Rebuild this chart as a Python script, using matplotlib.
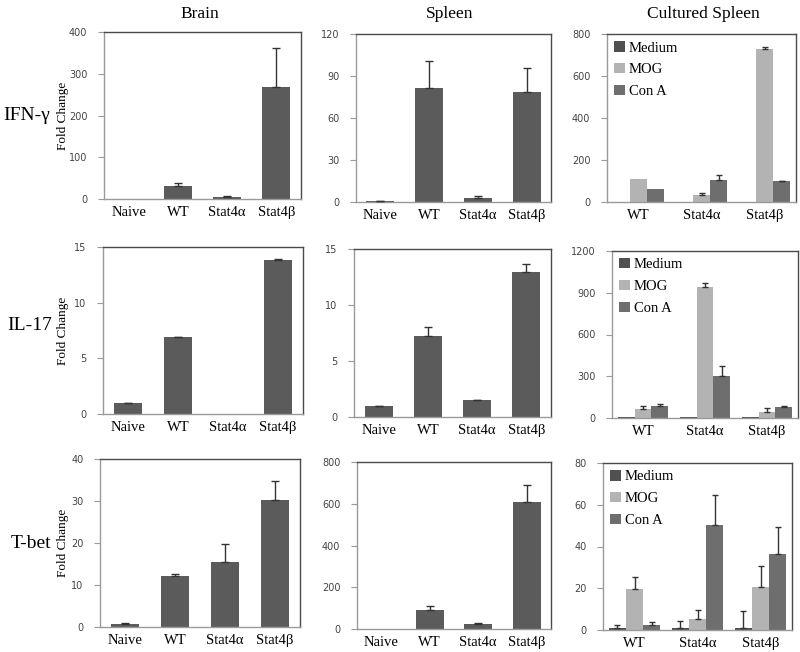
import matplotlib
matplotlib.use("Agg")
import matplotlib.pyplot as plt
from matplotlib.patches import Patch
import numpy as np

W, H = 800, 652

# ---------------- data ----------------
groups4 = ["Naive", "WT", "Stat4\u03b1", "Stat4\u03b2"]
groups3 = ["WT", "Stat4\u03b1", "Stat4\u03b2"]
conditions = ["Medium", "MOG", "Con A"]
col_titles = ["Brain", "Spleen", "Cultured Spleen"]
row_titles = ["IFN-\u03b3", "IL-17", "T-bet"]

# IFN-gamma
ifn_brain = [1, 30, 4.5, 268]
ifn_brain_err = [0, 8, 2, 94]
ifn_spleen = [0.6, 81.5, 3, 78.5]
ifn_spleen_err = [0.2, 19, 1.2, 17]
ifn_cult_medium = [0, 0, 0]
ifn_cult_medium_err = [0, 0, 0]
ifn_cult_mog = [110, 33, 730]
ifn_cult_mog_err = [0, 10, 8]
ifn_cult_cona = [63, 106, 98]
ifn_cult_cona_err = [0, 24, 3]

# IL-17
il17_brain = [0.97, 6.88, 0, 13.83]
il17_brain_err = [0.03, 0.05, 0, 0.12]
il17_spleen = [0.96, 7.2, 1.5, 12.95]
il17_spleen_err = [0.03, 0.8, 0.06, 0.73]
il17_cult_medium = [4, 4, 4]
il17_cult_medium_err = [0, 0, 0]
il17_cult_mog = [67, 942, 41]
il17_cult_mog_err = [19, 30, 31]
il17_cult_cona = [84, 305, 79]
il17_cult_cona_err = [19, 66, 7]

# T-bet
tbet_brain = [0.8, 12.2, 15.4, 30.2]
tbet_brain_err = [0.15, 0.4, 4.3, 4.6]
tbet_spleen = [0, 92, 25, 607]
tbet_spleen_err = [0, 20, 4, 85]
tbet_cult_medium = [1, 1, 1]
tbet_cult_medium_err = [1.2, 3.5, 8]
tbet_cult_mog = [19.6, 5.3, 20.8]
tbet_cult_mog_err = [5.6, 4.4, 9.8]
tbet_cult_cona = [2.6, 50.3, 36.2]
tbet_cult_cona_err = [1.0, 14.3, 13.1]

# y-axis ticks
yticks = {
    (0, 0): [0, 100, 200, 300, 400],
    (0, 1): [0, 30, 60, 90, 120],
    (0, 2): [0, 200, 400, 600, 800],
    (1, 0): [0, 5, 10, 15],
    (1, 1): [0, 5, 10, 15],
    (1, 2): [0, 300, 600, 900, 1200],
    (2, 0): [0, 10, 20, 30, 40],
    (2, 1): [0, 200, 400, 600, 800],
    (2, 2): [0, 20, 40, 60, 80],
}

simple = {
    (0, 0): (ifn_brain, ifn_brain_err),
    (0, 1): (ifn_spleen, ifn_spleen_err),
    (1, 0): (il17_brain, il17_brain_err),
    (1, 1): (il17_spleen, il17_spleen_err),
    (2, 0): (tbet_brain, tbet_brain_err),
    (2, 1): (tbet_spleen, tbet_spleen_err),
}
cultured = {
    0: [(ifn_cult_medium, ifn_cult_medium_err), (ifn_cult_mog, ifn_cult_mog_err),
        (ifn_cult_cona, ifn_cult_cona_err)],
    1: [(il17_cult_medium, il17_cult_medium_err), (il17_cult_mog, il17_cult_mog_err),
        (il17_cult_cona, il17_cult_cona_err)],
    2: [(tbet_cult_medium, tbet_cult_medium_err), (tbet_cult_mog, tbet_cult_mog_err),
        (tbet_cult_cona, tbet_cult_cona_err)],
}

# ---------------- layout (pixel boxes: left, top, right, bottom) ----------------
boxes = {
    (0, 0): (104, 32, 301, 199), (0, 1): (356, 34, 551, 202), (0, 2): (607, 34, 796, 202),
    (1, 0): (103, 247, 303, 414), (1, 1): (354, 249, 551, 417), (1, 2): (612, 251, 798, 418),
    (2, 0): (100, 459, 300, 627), (2, 1): (357, 462, 551, 629), (2, 2): (603, 463, 792, 630),
}

BAR = "#5b5b5b"
cond_colors = ["#505050", "#b3b3b3", "#6e6e6e"]
SERIF = "Liberation Serif"
SANS = "DejaVu Sans"

fig = plt.figure(figsize=(W / 100, H / 100), dpi=100)
fig.patch.set_facecolor("white")


def style(ax, key):
    for s in ["left", "bottom"]:
        ax.spines[s].set_color("#9a9a9a")
        ax.spines[s].set_linewidth(1.0)
    for s in ["top", "right"]:
        ax.spines[s].set_color("#4a4a4a")
        ax.spines[s].set_linewidth(1.0)
    t = yticks[key]
    ax.set_yticks(t)
    ax.set_ylim(0, t[-1])
    ax.tick_params(axis="y", length=4, width=0.8, color="#9a9a9a", pad=8,
                   labelsize=7, labelcolor="#444444")
    for lab in ax.get_yticklabels():
        lab.set_family(SANS)
    ax.tick_params(axis="x", length=0, pad=5)


def draw_err(ax, xs, vals, errs, cap):
    xs = np.asarray(xs, float)
    vals = np.asarray(vals, float)
    errs = np.asarray(errs, float)
    m = errs > 0
    if m.any():
        ax.errorbar(xs[m], vals[m], yerr=[np.zeros(m.sum()), errs[m]], fmt="none",
                    ecolor="#333333", elinewidth=1.0, capsize=cap, capthick=1.0, zorder=3)


for key, (l, t, r, b) in boxes.items():
    ax = fig.add_axes([l / W, 1 - b / H, (r - l) / W, (b - t) / H])
    row, col = key
    if col < 2:
        vals, errs = simple[key]
        x = np.arange(len(groups4))
        ax.bar(x, vals, width=0.57, color=BAR, zorder=2)
        draw_err(ax, x, vals, errs, 3)
        ax.set_xlim(-0.5, len(groups4) - 0.5)
        ax.set_xticks(x)
        ax.set_xticklabels(groups4, family=SERIF, fontsize=10.5)
    else:
        x = np.arange(len(groups3))
        bw = 0.27
        handles = []
        for i, (vals, errs) in enumerate(cultured[row]):
            xi = x + (i - 1) * bw
            ax.bar(xi, vals, width=bw, color=cond_colors[i], zorder=2)
            draw_err(ax, xi, vals, errs, 2.5)
            handles.append(Patch(facecolor=cond_colors[i], edgecolor="none", label=conditions[i]))
        ax.set_xlim(-0.5, len(groups3) - 0.5)
        ax.set_xticks(x)
        ax.set_xticklabels(groups3, family=SERIF, fontsize=10.5)
        ax.legend(handles=handles, loc="upper left", frameon=False,
                  prop={"family": SERIF, "size": 10.5}, handlelength=0.7,
                  handleheight=0.7, handletextpad=0.3, labelspacing=0.6,
                  borderaxespad=0.3, borderpad=0.2)
    style(ax, key)
    if col == 0:
        ax.set_ylabel("Fold Change", family=SERIF, fontsize=9.5)
        ax.yaxis.set_label_coords((69 - l) / (r - l), 0.5)

# column titles
for x_px, title in zip([200, 450, 703], col_titles):
    fig.text(x_px / W, 1 - 14 / H, title, family=SERIF, fontsize=12.5,
             ha="center", va="center")

# row titles
for (x_px, y_px), title in zip([(27, 116), (30, 326), (31, 544)], row_titles):
    fig.text(x_px / W, 1 - y_px / H, title, family=SERIF, fontsize=14,
             ha="center", va="center")

fig.savefig("out.png", dpi=100, facecolor="white")
